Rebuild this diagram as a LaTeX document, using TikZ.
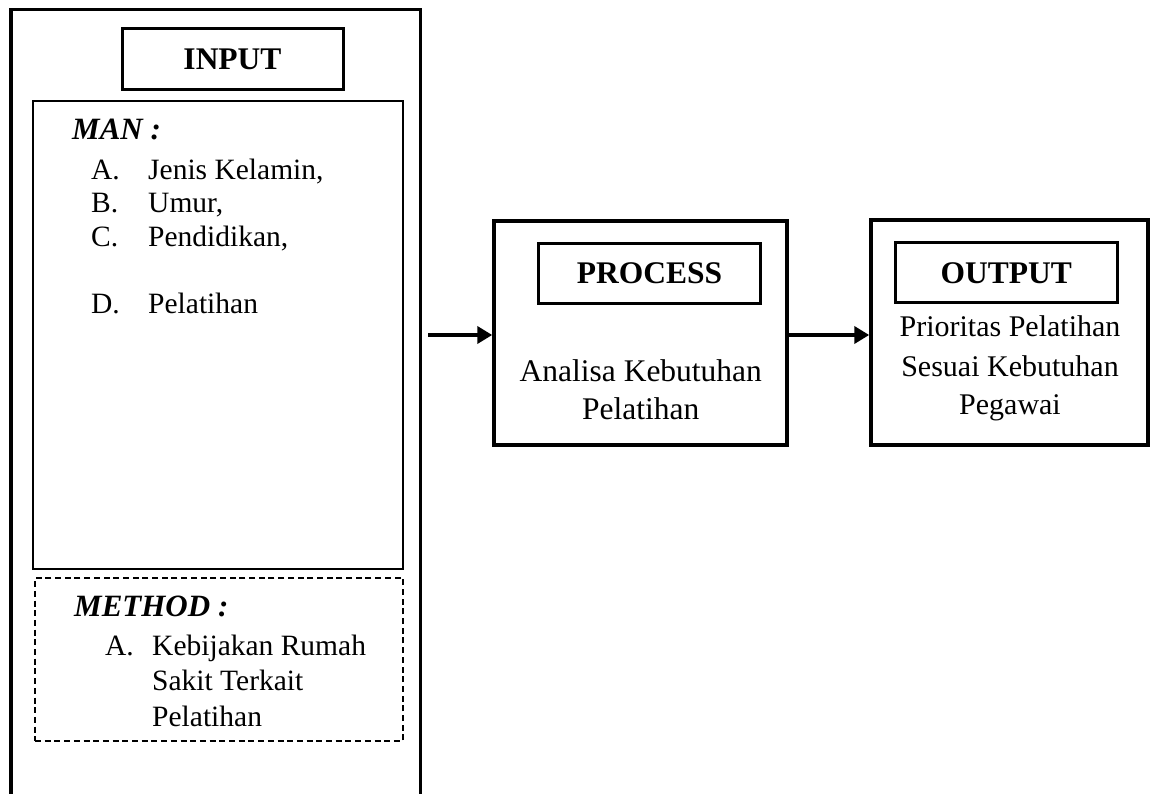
\documentclass[tikz,border=0pt]{standalone}
\usepackage{fontspec}
\setmainfont{Liberation Serif}
\usetikzlibrary{arrows.meta}
\begin{document}
\begin{tikzpicture}[x=1pt,y=-1pt,
  txt/.style={inner sep=0pt, anchor=base west, font=\fontsize{29.5}{34}\selectfont},
  ctxt/.style={inner sep=0pt, anchor=base, font=\fontsize{31.5}{36}\selectfont},
  otxt/.style={inner sep=0pt, anchor=base, font=\fontsize{30}{36}\selectfont},
  hd/.style={inner sep=0pt, anchor=base west, font=\fontsize{31}{36}\selectfont\bfseries\itshape},
  titlebox/.style={draw, line width=3pt, inner sep=0pt, font=\fontsize{31.5}{36}\selectfont\bfseries},
  bigbox/.style={draw, line width=3.5pt, inner sep=0pt},
  conn/.style={line width=4pt, -{Triangle[length=15pt,width=17pt]}}
]
\useasboundingbox (0,0) rectangle (1154,794);
% outer input panel (open at the bottom)
\draw[line width=3.3pt] (11,794) -- (11,9.5) -- (420.5,9.5) -- (420.5,794);
\node[titlebox, minimum width=221pt, minimum height=60.6pt] (inputT) at (232.5,59) {INPUT};

% MAN box
\node[draw, line width=1.5pt, minimum width=370pt, minimum height=468pt, inner sep=0pt] (manbox) at (218,335) {};
\node[hd] (manh) at (72,140) {MAN :};
\node[txt] (ma) at (91,180) {A.};
\node[txt] (mat) at (148,180) {Jenis Kelamin,};
\node[txt] (mb) at (91,213) {B.};
\node[txt] (mbt) at (148,213) {Umur,};
\node[txt] (mc) at (91,247) {C.};
\node[txt] (mct) at (148,247) {Pendidikan,};
\node[txt] (md) at (91,313) {D.};
\node[txt] (mdt) at (148,313) {Pelatihan};

% METHOD box
\node[draw, dash pattern=on 6pt off 3.7pt, line width=1.8pt, minimum width=368pt, minimum height=163pt, inner sep=0pt] (methbox) at (219,659.5) {};
\node[hd] (meth) at (74,616) {METHOD :};
\node[txt] (mea) at (105,655) {A.};
\node[txt] (mea1) at (152,655) {Kebijakan Rumah};
\node[txt] (mea2) at (152,690.5) {Sakit Terkait};
\node[txt] (mea3) at (152,726) {Pelatihan};

% PROCESS
\node[bigbox, minimum width=293pt, minimum height=223.7pt] (proc) at (640.5,332.9) {};
\node[titlebox, minimum width=221.6pt, minimum height=60.7pt] (procT) at (649.5,273.4) {PROCESS};
\node[ctxt] (proc1) at (640.8,381.7) {Analisa Kebutuhan};
\node[ctxt] (proc2) at (640.8,419) {Pelatihan};

% OUTPUT
\node[bigbox, minimum width=277pt, minimum height=225pt] (outb) at (1009.5,332.5) {};
\node[titlebox, minimum width=221.7pt, minimum height=60pt] (outT) at (1006.2,273) {OUTPUT};
\node[otxt] (out1) at (1010,336.7) {Prioritas Pelatihan};
\node[otxt] (out2) at (1010,376.2) {Sesuai Kebutuhan};
\node[otxt] (out3) at (1010,414) {Pegawai};

% connectors
\coordinate (inR) at (428,335);
\draw[conn] (inR) -- (proc.west |- inR);
\draw[conn] (proc.east |- inR) -- (outb.west |- inR);
\end{tikzpicture}
\end{document}
